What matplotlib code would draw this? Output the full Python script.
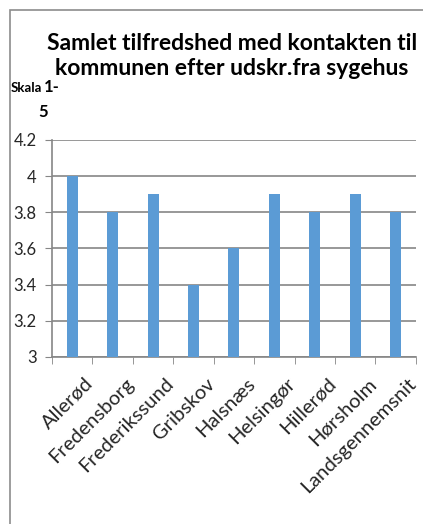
import matplotlib
matplotlib.use("Agg")
import matplotlib.pyplot as plt
import matplotlib.transforms as mtransforms
from matplotlib.patches import Rectangle

# data
kommuner = ['Allerød', 'Fredensborg', 'Frederikssund', 'Gribskov', 'Halsnæs',
            'Helsingør', 'Hillerød', 'Hørsholm', 'Landsgennemsnit']
score = [4.0, 3.8, 3.9, 3.4, 3.6, 3.9, 3.8, 3.9, 3.8]
yticks = [3, 3.2, 3.4, 3.6, 3.8, 4, 4.2]
ytick_labels = ['3', '3.2', '3.4', '3.6', '3.8', '4', '4.2']

plt.rcParams['font.family'] = ['Lato', 'DejaVu Sans']
txt_col = '#262626'
line_col = '#868686'

fig = plt.figure(figsize=(4.23, 5.24), dpi=100)
ax = fig.add_axes([0.123, 0.319, 0.860, 0.414])

x = list(range(len(kommuner)))
ax.bar(x, score, width=0.27, color='#5B9BD5', zorder=3)

ax.set_ylim(3, 4.2)
ax.set_xlim(-0.5, len(kommuner) - 0.5)
ax.set_yticks(yticks)
ax.set_yticklabels(ytick_labels, fontsize=12, color=txt_col)
ax.yaxis.grid(True, color=line_col, linewidth=1.2, zorder=0)

# category ticks between bars
ax.set_xticks([i - 0.5 for i in range(len(kommuner) + 1)], minor=True)
ax.set_xticks(x)
ax.set_xticklabels(kommuner, rotation=45, ha='right', rotation_mode='anchor',
                   fontsize=14.5, color=txt_col)
ax.tick_params(axis='x', which='major', length=0, pad=13)
ax.tick_params(axis='x', which='minor', length=5, color=line_col, direction='out')
ax.tick_params(axis='y', length=5, color=line_col, pad=6)

# shift rotated labels a bit to the right, like the original
shift = mtransforms.ScaledTranslation(12 / 100, 0, fig.dpi_scale_trans)
for lbl in ax.get_xticklabels():
    lbl.set_transform(lbl.get_transform() + shift)

for s in ['top', 'right']:
    ax.spines[s].set_visible(False)
ax.spines['left'].set_color(line_col)
ax.spines['bottom'].set_color(line_col)
ax.spines['left'].set_linewidth(1.2)
ax.spines['bottom'].set_linewidth(1.2)

fig.text(0.548, 0.893, 'Samlet tilfredshed med kontakten til\nkommunen efter udskr.fra sygehus',
         ha='center', va='center', fontsize=16.5, fontweight='bold', color='black',
         linespacing=1.22)
fig.text(0.024, 0.832, 'Skala', fontsize=9.5, fontweight='bold', color='black', va='center')
fig.text(0.103, 0.834, '1-', fontsize=12, fontweight='bold', color='black', va='center')
fig.text(0.090, 0.786, '5', fontsize=12, fontweight='bold', color='black', va='center')

# outer chart frame (cropped)
fig.patches.append(Rectangle((10 / 423, -0.1), 1.2, (524 - 10) / 524 + 0.1,
                             transform=fig.transFigure, fill=False,
                             edgecolor='#8c8c8c', linewidth=1.2))

fig.savefig('out.png', dpi=100)
